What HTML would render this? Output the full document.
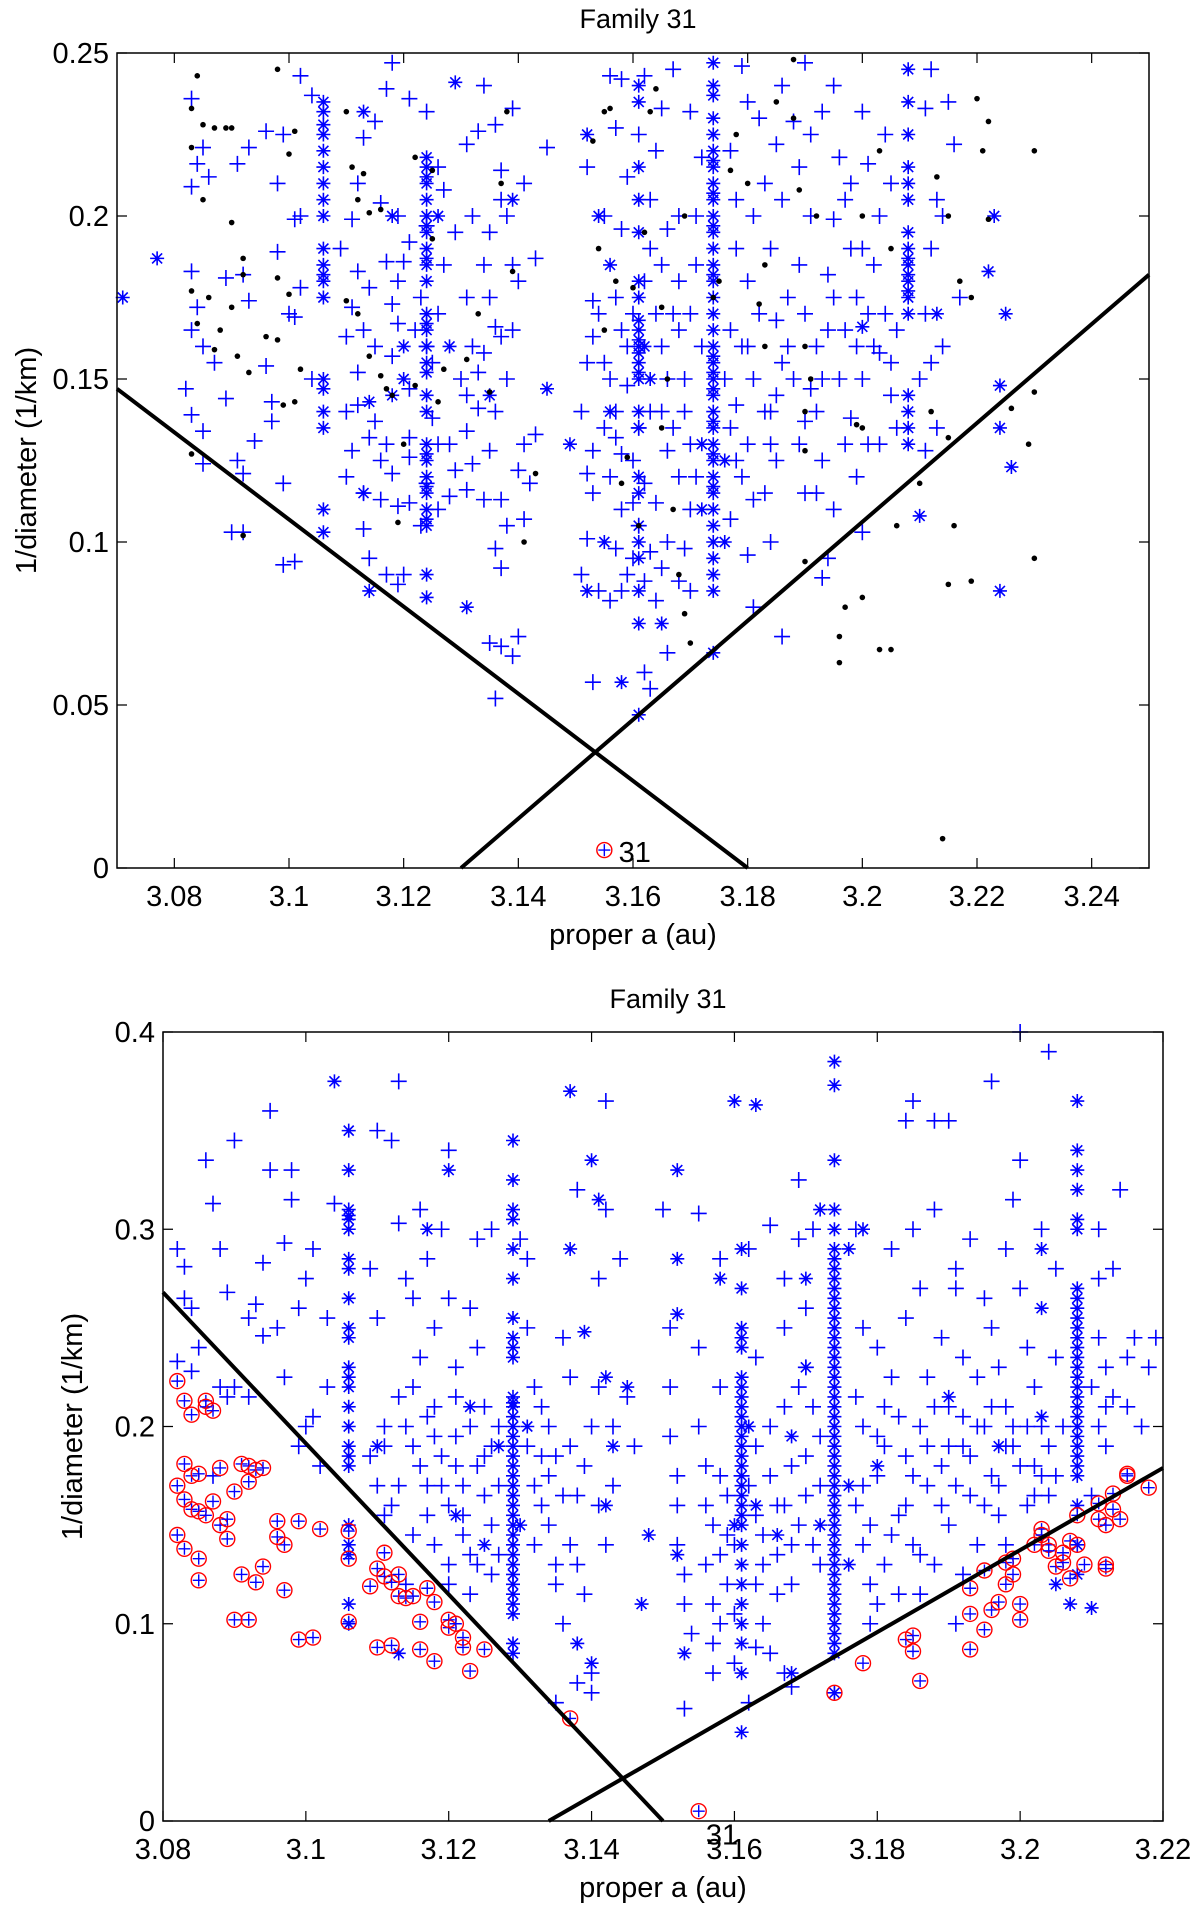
<!DOCTYPE html>
<html><head><meta charset="utf-8"><style>
html,body{margin:0;padding:0;background:#fff;}
svg{display:block;}
text{font-family:"Liberation Sans",sans-serif;fill:#000;}
</style></head><body>
<svg id="fig" width="1200" height="1915" viewBox="0 0 1200 1915" xmlns="http://www.w3.org/2000/svg">
<g id="p1"></g>
<g id="p2"></g>
</svg>
<script>
// ---------- TOP PANEL DATA ----------
const topXTicks=[3.08,3.1,3.12,3.14,3.16,3.18,3.2,3.22,3.24];
const topXTickLabels=["3.08","3.1","3.12","3.14","3.16","3.18","3.2","3.22","3.24"];
const topYTicks=[0,0.05,0.1,0.15,0.2,0.25];
const topYTickLabels=["0","0.05","0.1","0.15","0.2","0.25"];
const topLines=[[[3.07,0.147],[3.18,0]],[[3.13,0],[3.25,0.182]]];
const topPlus=[[3.083,0.236],[3.084,0.216],[3.083,0.209],[3.085,0.221],[3.086,0.212],[3.083,0.183],[3.084,0.172],[3.083,0.165],[3.085,0.16],[3.087,0.155],[3.082,0.147],[3.083,0.139],[3.085,0.134],[3.085,0.124],[3.089,0.144],[3.091,0.125],[3.092,0.121],[3.089,0.181],[3.092,0.182],[3.093,0.174],[3.09,0.103],[3.092,0.103],[3.096,0.154],[3.097,0.143],[3.097,0.137],[3.099,0.118],[3.094,0.131],[3.099,0.093],[3.101,0.094],[3.096,0.226],[3.099,0.225],[3.098,0.21],[3.101,0.199],[3.102,0.2],[3.104,0.237],[3.102,0.243],[3.098,0.189],[3.102,0.178],[3.1,0.17],[3.101,0.169],[3.104,0.15],[3.093,0.221],[3.091,0.216],[3.111,0.199],[3.112,0.21],[3.113,0.224],[3.115,0.229],[3.117,0.239],[3.118,0.247],[3.116,0.204],[3.119,0.2],[3.112,0.183],[3.114,0.178],[3.117,0.186],[3.119,0.18],[3.111,0.172],[3.113,0.165],[3.115,0.16],[3.118,0.157],[3.119,0.167],[3.112,0.142],[3.115,0.137],[3.117,0.13],[3.11,0.12],[3.113,0.115],[3.116,0.113],[3.118,0.121],[3.119,0.111],[3.114,0.095],[3.117,0.09],[3.119,0.087],[3.12,0.09],[3.111,0.128],[3.121,0.132],[3.121,0.147],[3.123,0.175],[3.125,0.155],[3.121,0.192],[3.124,0.197],[3.126,0.215],[3.121,0.236],[3.124,0.232],[3.127,0.208],[3.126,0.13],[3.124,0.118],[3.121,0.126],[3.128,0.114],[3.125,0.138],[3.131,0.116],[3.132,0.124],[3.134,0.113],[3.131,0.134],[3.133,0.141],[3.135,0.128],[3.132,0.16],[3.134,0.158],[3.136,0.166],[3.137,0.163],[3.131,0.175],[3.134,0.185],[3.135,0.195],[3.137,0.205],[3.132,0.2],[3.131,0.222],[3.133,0.226],[3.136,0.228],[3.137,0.214],[3.134,0.24],[3.139,0.233],[3.138,0.2],[3.139,0.185],[3.137,0.113],[3.138,0.105],[3.136,0.098],[3.141,0.13],[3.14,0.122],[3.143,0.133],[3.142,0.118],[3.141,0.107],[3.137,0.092],[3.137,0.068],[3.135,0.069],[3.136,0.052],[3.139,0.065],[3.14,0.071],[3.143,0.187],[3.141,0.21],[3.145,0.221],[3.152,0.215],[3.153,0.174],[3.153,0.163],[3.152,0.155],[3.151,0.14],[3.153,0.128],[3.152,0.121],[3.153,0.115],[3.152,0.101],[3.151,0.09],[3.154,0.085],[3.153,0.057],[3.155,0.135],[3.157,0.175],[3.158,0.165],[3.159,0.148],[3.157,0.14],[3.156,0.12],[3.158,0.11],[3.157,0.098],[3.159,0.09],[3.156,0.082],[3.158,0.085],[3.16,0.125],[3.162,0.118],[3.161,0.105],[3.163,0.097],[3.164,0.082],[3.162,0.06],[3.163,0.055],[3.164,0.112],[3.165,0.14],[3.166,0.128],[3.167,0.17],[3.168,0.18],[3.165,0.185],[3.166,0.196],[3.168,0.2],[3.163,0.205],[3.164,0.22],[3.162,0.243],[3.165,0.233],[3.167,0.245],[3.156,0.243],[3.158,0.242],[3.157,0.227],[3.155,0.2],[3.158,0.196],[3.169,0.15],[3.168,0.12],[3.17,0.11],[3.169,0.098],[3.17,0.085],[3.166,0.066],[3.168,0.088],[3.171,0.2],[3.172,0.218],[3.179,0.246],[3.18,0.235],[3.182,0.23],[3.177,0.22],[3.178,0.205],[3.181,0.2],[3.178,0.19],[3.18,0.18],[3.177,0.165],[3.179,0.16],[3.181,0.15],[3.178,0.142],[3.18,0.13],[3.179,0.12],[3.181,0.113],[3.177,0.107],[3.18,0.096],[3.181,0.08],[3.184,0.1],[3.183,0.115],[3.185,0.125],[3.184,0.14],[3.186,0.155],[3.185,0.168],[3.187,0.175],[3.184,0.19],[3.186,0.205],[3.185,0.222],[3.188,0.229],[3.186,0.24],[3.19,0.247],[3.189,0.215],[3.191,0.2],[3.189,0.185],[3.19,0.17],[3.192,0.16],[3.191,0.147],[3.19,0.137],[3.193,0.125],[3.192,0.115],[3.195,0.11],[3.194,0.095],[3.193,0.089],[3.194,0.182],[3.195,0.199],[3.196,0.218],[3.193,0.232],[3.195,0.24],[3.197,0.205],[3.198,0.19],[3.199,0.175],[3.197,0.165],[3.2,0.15],[3.198,0.138],[3.201,0.13],[3.199,0.12],[3.2,0.103],[3.2,0.232],[3.203,0.2],[3.202,0.185],[3.204,0.17],[3.203,0.158],[3.205,0.145],[3.206,0.135],[3.204,0.225],[3.201,0.216],[3.212,0.245],[3.211,0.233],[3.213,0.205],[3.212,0.19],[3.211,0.17],[3.212,0.155],[3.213,0.135],[3.211,0.128],[3.215,0.235],[3.216,0.222],[3.214,0.2],[3.217,0.175],[3.186,0.071]];
const topPlusExtra=[[3.109,0.19],[3.11,0.163],[3.112,0.152],[3.114,0.132],[3.116,0.125],[3.118,0.173],[3.12,0.186],[3.122,0.165],[3.124,0.16],[3.126,0.17],[3.127,0.185],[3.129,0.195],[3.13,0.15],[3.131,0.145],[3.133,0.152],[3.135,0.175],[3.136,0.14],[3.138,0.15],[3.139,0.165],[3.14,0.18],[3.128,0.13],[3.129,0.122],[3.126,0.11],[3.123,0.105],[3.121,0.112],[3.113,0.104],[3.11,0.14],[3.154,0.17],[3.155,0.155],[3.156,0.15],[3.157,0.132],[3.158,0.127],[3.159,0.16],[3.16,0.17],[3.162,0.18],[3.163,0.19],[3.164,0.17],[3.165,0.16],[3.166,0.15],[3.167,0.135],[3.168,0.165],[3.169,0.14],[3.17,0.13],[3.171,0.12],[3.17,0.17],[3.171,0.185],[3.172,0.16],[3.176,0.15],[3.177,0.135],[3.178,0.125],[3.18,0.16],[3.182,0.17],[3.183,0.14],[3.184,0.13],[3.185,0.145],[3.187,0.16],[3.188,0.15],[3.189,0.13],[3.19,0.115],[3.192,0.14],[3.193,0.15],[3.194,0.165],[3.195,0.175],[3.196,0.15],[3.197,0.13],[3.199,0.16],[3.201,0.17],[3.202,0.16],[3.203,0.13],[3.205,0.155],[3.206,0.165],[3.2,0.19],[3.198,0.21],[3.205,0.21],[3.21,0.15],[3.214,0.16],[3.161,0.135],[3.163,0.14],[3.16,0.095],[3.162,0.088],[3.165,0.092],[3.166,0.1],[3.16,0.112],[3.159,0.212],[3.161,0.225],[3.17,0.232],[3.183,0.21],[3.191,0.225]];
const topStarCols=[3.106,3.124,3.161,3.174,3.208];
const topStarColD=[
[0.235,0.232,0.228,0.225,0.22,0.215,0.21,0.205,0.2,0.19,0.185,0.182,0.18,0.175,0.15,0.147,0.14,0.135,0.11,0.103],
[0.218,0.215,0.212,0.21,0.205,0.2,0.197,0.195,0.19,0.187,0.185,0.18,0.17,0.167,0.165,0.16,0.155,0.152,0.145,0.14,0.13,0.127,0.125,0.12,0.117,0.115,0.11,0.107,0.105,0.09,0.083],
[0.24,0.235,0.215,0.205,0.195,0.18,0.175,0.168,0.165,0.162,0.16,0.158,0.155,0.152,0.15,0.14,0.135,0.12,0.115,0.105,0.1,0.095,0.085,0.075,0.047],
[0.247,0.24,0.237,0.23,0.225,0.22,0.217,0.215,0.21,0.207,0.205,0.2,0.197,0.195,0.19,0.185,0.182,0.18,0.175,0.17,0.165,0.16,0.157,0.155,0.152,0.15,0.147,0.145,0.14,0.137,0.135,0.13,0.127,0.125,0.12,0.117,0.115,0.11,0.105,0.1,0.095,0.09,0.085,0.066],
[0.245,0.235,0.225,0.215,0.21,0.205,0.195,0.19,0.187,0.185,0.182,0.18,0.177,0.175,0.17,0.145,0.14,0.135,0.13]];
const topStarOther=[[3.113,0.232],[3.114,0.143],[3.113,0.115],[3.114,0.085],[3.12,0.16],[3.12,0.15],[3.118,0.145],[3.071,0.175],[3.077,0.187],[3.129,0.241],[3.135,0.145],[3.139,0.205],[3.145,0.147],[3.149,0.13],[3.156,0.185],[3.156,0.14],[3.154,0.2],[3.152,0.225],[3.152,0.085],[3.155,0.1],[3.158,0.057],[3.165,0.075],[3.223,0.2],[3.222,0.183],[3.225,0.17],[3.224,0.148],[3.224,0.135],[3.226,0.123],[3.224,0.085],[3.21,0.108],[3.2,0.166],[3.213,0.17],[3.131,0.08],[3.128,0.16],[3.126,0.2],[3.118,0.2],[3.172,0.13],[3.172,0.11],[3.176,0.125],[3.176,0.1],[3.162,0.16],[3.163,0.15]];
const topDots=[[3.084,0.243],[3.083,0.233],[3.085,0.228],[3.087,0.227],[3.089,0.227],[3.09,0.227],[3.083,0.221],[3.085,0.205],[3.09,0.198],[3.092,0.187],[3.092,0.182],[3.083,0.177],[3.086,0.175],[3.084,0.167],[3.088,0.165],[3.09,0.172],[3.091,0.157],[3.093,0.152],[3.087,0.159],[3.083,0.127],[3.092,0.102],[3.096,0.163],[3.098,0.162],[3.099,0.142],[3.101,0.143],[3.1,0.176],[3.098,0.181],[3.102,0.153],[3.1,0.219],[3.101,0.226],[3.098,0.245],[3.11,0.232],[3.111,0.215],[3.112,0.205],[3.113,0.213],[3.114,0.201],[3.116,0.202],[3.11,0.174],[3.112,0.17],[3.114,0.157],[3.116,0.151],[3.118,0.145],[3.12,0.13],[3.119,0.106],[3.117,0.147],[3.122,0.148],[3.125,0.214],[3.122,0.218],[3.125,0.193],[3.126,0.143],[3.127,0.153],[3.131,0.156],[3.133,0.17],[3.135,0.146],[3.137,0.21],[3.138,0.232],[3.139,0.183],[3.143,0.121],[3.141,0.1],[3.153,0.223],[3.155,0.232],[3.156,0.233],[3.154,0.19],[3.155,0.165],[3.157,0.18],[3.16,0.178],[3.159,0.126],[3.158,0.118],[3.162,0.195],[3.165,0.172],[3.166,0.15],[3.165,0.135],[3.167,0.11],[3.168,0.09],[3.169,0.078],[3.17,0.069],[3.161,0.105],[3.163,0.232],[3.164,0.239],[3.169,0.2],[3.175,0.18],[3.178,0.225],[3.177,0.214],[3.18,0.21],[3.183,0.185],[3.182,0.173],[3.185,0.235],[3.188,0.248],[3.188,0.23],[3.189,0.208],[3.19,0.16],[3.191,0.15],[3.19,0.14],[3.19,0.128],[3.19,0.094],[3.196,0.063],[3.196,0.071],[3.197,0.08],[3.2,0.083],[3.203,0.067],[3.205,0.067],[3.2,0.135],[3.2,0.2],[3.203,0.22],[3.205,0.19],[3.206,0.105],[3.21,0.118],[3.212,0.14],[3.215,0.132],[3.213,0.212],[3.215,0.2],[3.217,0.18],[3.219,0.175],[3.216,0.105],[3.215,0.087],[3.219,0.088],[3.222,0.199],[3.221,0.22],[3.22,0.236],[3.222,0.229],[3.226,0.141],[3.229,0.13],[3.23,0.146],[3.23,0.095],[3.23,0.22],[3.214,0.009],[3.192,0.2],[3.183,0.16],[3.174,0.175],[3.199,0.136]];
const topCircles=[[3.155,0.0055]];

// ---------- BOTTOM PANEL DATA ----------
const botXTicks=[3.08,3.1,3.12,3.14,3.16,3.18,3.2,3.22];
const botXTickLabels=["3.08","3.1","3.12","3.14","3.16","3.18","3.2","3.22"];
const botYTicks=[0,0.1,0.2,0.3,0.4];
const botYTickLabels=["0","0.1","0.2","0.3","0.4"];
const botLines=[[[3.08,0.268],[3.15,0]],[[3.134,0],[3.22,0.179]]];
const botPlus=[[3.082,0.29],[3.083,0.281],[3.083,0.265],[3.084,0.26],[3.086,0.335],[3.087,0.313],[3.088,0.29],[3.089,0.268],[3.09,0.345],[3.082,0.233],[3.084,0.228],[3.085,0.24],[3.088,0.22],[3.089,0.215],[3.092,0.255],[3.093,0.262],[3.094,0.283],[3.095,0.33],[3.095,0.36],[3.094,0.246],[3.096,0.25],[3.097,0.293],[3.098,0.33],[3.098,0.315],[3.099,0.26],[3.099,0.19],[3.1,0.275],[3.1,0.2],[3.101,0.29],[3.101,0.205],[3.103,0.255],[3.103,0.22],[3.104,0.313],[3.102,0.18],[3.097,0.225],[3.092,0.215],[3.09,0.22],[3.087,0.175],[3.109,0.28],[3.11,0.255],[3.11,0.35],[3.111,0.19],[3.112,0.345],[3.113,0.303],[3.113,0.375],[3.114,0.275],[3.115,0.265],[3.115,0.22],[3.116,0.235],[3.116,0.31],[3.117,0.285],[3.117,0.205],[3.118,0.195],[3.118,0.25],[3.119,0.3],[3.119,0.17],[3.12,0.34],[3.12,0.265],[3.121,0.23],[3.121,0.215],[3.121,0.18],[3.122,0.155],[3.122,0.145],[3.123,0.2],[3.123,0.26],[3.124,0.295],[3.124,0.24],[3.125,0.21],[3.125,0.185],[3.126,0.15],[3.126,0.3],[3.127,0.135],[3.127,0.2],[3.112,0.16],[3.113,0.17],[3.114,0.12],[3.115,0.145],[3.118,0.14],[3.12,0.13],[3.12,0.12],[3.123,0.115],[3.111,0.2],[3.109,0.185],[3.115,0.19],[3.117,0.17],[3.13,0.295],[3.131,0.285],[3.131,0.25],[3.132,0.22],[3.133,0.21],[3.133,0.185],[3.134,0.175],[3.134,0.15],[3.135,0.13],[3.135,0.12],[3.136,0.1],[3.136,0.245],[3.137,0.225],[3.137,0.19],[3.138,0.165],[3.138,0.32],[3.139,0.115],[3.14,0.065],[3.14,0.075],[3.141,0.275],[3.141,0.16],[3.142,0.365],[3.142,0.31],[3.143,0.2],[3.144,0.285],[3.135,0.06],[3.138,0.07],[3.145,0.215],[3.146,0.19],[3.15,0.31],[3.151,0.25],[3.151,0.22],[3.151,0.195],[3.152,0.175],[3.152,0.16],[3.152,0.14],[3.153,0.125],[3.153,0.11],[3.154,0.095],[3.153,0.057],[3.155,0.24],[3.155,0.2],[3.155,0.308],[3.156,0.16],[3.156,0.13],[3.157,0.11],[3.157,0.09],[3.158,0.285],[3.158,0.22],[3.158,0.175],[3.159,0.145],[3.159,0.12],[3.16,0.08],[3.162,0.06],[3.162,0.29],[3.163,0.235],[3.163,0.19],[3.163,0.155],[3.164,0.13],[3.164,0.1],[3.165,0.302],[3.165,0.2],[3.166,0.16],[3.166,0.115],[3.167,0.275],[3.167,0.25],[3.167,0.21],[3.168,0.18],[3.168,0.14],[3.169,0.325],[3.169,0.295],[3.17,0.26],[3.17,0.23],[3.17,0.165],[3.171,0.3],[3.172,0.195],[3.172,0.13],[3.167,0.075],[3.168,0.068],[3.177,0.3],[3.177,0.215],[3.178,0.25],[3.178,0.17],[3.178,0.14],[3.179,0.12],[3.179,0.1],[3.18,0.24],[3.18,0.195],[3.181,0.21],[3.181,0.13],[3.182,0.29],[3.182,0.225],[3.183,0.155],[3.183,0.115],[3.184,0.355],[3.184,0.255],[3.184,0.185],[3.185,0.3],[3.185,0.365],[3.185,0.14],[3.186,0.27],[3.186,0.2],[3.187,0.225],[3.187,0.17],[3.188,0.355],[3.188,0.31],[3.188,0.13],[3.189,0.245],[3.189,0.18],[3.19,0.355],[3.19,0.21],[3.19,0.15],[3.191,0.28],[3.191,0.27],[3.191,0.1],[3.192,0.235],[3.192,0.19],[3.193,0.165],[3.193,0.295],[3.194,0.225],[3.194,0.14],[3.195,0.265],[3.195,0.2],[3.196,0.375],[3.196,0.25],[3.196,0.175],[3.197,0.23],[3.197,0.155],[3.198,0.29],[3.198,0.21],[3.199,0.315],[3.199,0.19],[3.2,0.27],[3.2,0.4],[3.2,0.335],[3.201,0.24],[3.201,0.16],[3.202,0.22],[3.202,0.18],[3.203,0.3],[3.203,0.2],[3.205,0.28],[3.205,0.235],[3.204,0.39],[3.211,0.3],[3.211,0.275],[3.211,0.245],[3.212,0.23],[3.212,0.21],[3.212,0.19],[3.213,0.28],[3.214,0.32],[3.215,0.235],[3.216,0.245],[3.217,0.2],[3.218,0.23],[3.219,0.245],[3.211,0.2],[3.21,0.165],[3.204,0.165],[3.198,0.14],[3.192,0.125],[3.186,0.115],[3.18,0.11]];
const botPlusExtra=[[3.11,0.17],[3.111,0.155],[3.113,0.215],[3.114,0.2],[3.116,0.18],[3.117,0.155],[3.118,0.21],[3.119,0.185],[3.12,0.16],[3.121,0.195],[3.122,0.17],[3.123,0.135],[3.124,0.18],[3.125,0.165],[3.126,0.19],[3.127,0.17],[3.126,0.125],[3.124,0.13],[3.131,0.19],[3.132,0.17],[3.132,0.14],[3.133,0.16],[3.134,0.2],[3.135,0.185],[3.136,0.165],[3.137,0.14],[3.138,0.13],[3.139,0.18],[3.14,0.2],[3.141,0.22],[3.142,0.14],[3.143,0.17],[3.156,0.18],[3.157,0.15],[3.158,0.135],[3.159,0.165],[3.16,0.14],[3.162,0.17],[3.163,0.12],[3.164,0.145],[3.165,0.175],[3.166,0.135],[3.167,0.16],[3.168,0.12],[3.169,0.15],[3.17,0.185],[3.171,0.14],[3.172,0.17],[3.171,0.21],[3.169,0.22],[3.177,0.16],[3.178,0.2],[3.179,0.15],[3.18,0.175],[3.181,0.19],[3.182,0.145],[3.183,0.205],[3.184,0.16],[3.185,0.175],[3.186,0.135],[3.187,0.19],[3.188,0.21],[3.189,0.16],[3.19,0.19],[3.191,0.17],[3.192,0.205],[3.193,0.185],[3.194,0.2],[3.195,0.16],[3.196,0.21],[3.197,0.17],[3.198,0.19],[3.199,0.2],[3.2,0.18],[3.201,0.2],[3.202,0.165],[3.203,0.175],[3.204,0.19],[3.205,0.175],[3.206,0.2],[3.21,0.22],[3.213,0.215],[3.215,0.21],[3.161,0.175],[3.16,0.105],[3.158,0.1],[3.165,0.085],[3.163,0.088],[3.157,0.075]];
const botStarCols=[3.106,3.129,3.161,3.174,3.208];
const botStarColD=[
[0.35,0.33,0.31,0.307,0.305,0.3,0.285,0.28,0.265,0.25,0.245,0.23,0.225,0.22,0.21,0.2,0.19,0.185,0.18,0.15,0.14,0.135,0.11,0.1],
[0.345,0.325,0.31,0.305,0.29,0.275,0.255,0.245,0.24,0.235,0.215,0.212,0.21,0.205,0.2,0.195,0.19,0.185,0.18,0.175,0.17,0.165,0.16,0.155,0.15,0.145,0.14,0.135,0.13,0.125,0.12,0.115,0.11,0.105,0.09,0.085],
[0.29,0.27,0.25,0.245,0.24,0.225,0.22,0.215,0.21,0.205,0.2,0.195,0.19,0.185,0.18,0.175,0.17,0.165,0.16,0.155,0.15,0.14,0.13,0.12,0.11,0.1,0.09,0.075,0.045],
[0.385,0.373,0.335,0.31,0.3,0.29,0.285,0.28,0.275,0.27,0.265,0.26,0.255,0.25,0.245,0.24,0.235,0.23,0.225,0.22,0.215,0.21,0.205,0.2,0.195,0.19,0.185,0.18,0.175,0.17,0.165,0.16,0.155,0.15,0.145,0.14,0.135,0.13,0.125,0.12,0.115,0.11,0.105,0.1,0.095,0.09,0.085,0.065],
[0.365,0.34,0.33,0.32,0.305,0.3,0.27,0.265,0.26,0.255,0.25,0.245,0.24,0.235,0.23,0.225,0.22,0.215,0.21,0.205,0.2,0.195,0.19,0.185,0.18,0.175,0.16,0.14,0.125]];
const botStarOther=[[3.104,0.375],[3.11,0.19],[3.117,0.3],[3.12,0.33],[3.123,0.21],[3.121,0.155],[3.137,0.37],[3.137,0.29],[3.139,0.248],[3.14,0.335],[3.141,0.315],[3.142,0.225],[3.143,0.19],[3.142,0.16],[3.147,0.11],[3.145,0.22],[3.14,0.08],[3.138,0.09],[3.148,0.145],[3.152,0.33],[3.152,0.285],[3.152,0.257],[3.152,0.135],[3.153,0.085],[3.158,0.275],[3.16,0.365],[3.163,0.363],[3.17,0.23],[3.168,0.195],[3.166,0.145],[3.17,0.275],[3.172,0.31],[3.176,0.29],[3.178,0.3],[3.18,0.18],[3.19,0.215],[3.197,0.19],[3.203,0.26],[3.203,0.29],[3.203,0.205],[3.205,0.12],[3.207,0.11],[3.21,0.108],[3.168,0.075],[3.113,0.085],[3.13,0.15],[3.125,0.14],[3.162,0.2],[3.163,0.16],[3.16,0.15],[3.176,0.17],[3.176,0.13],[3.172,0.15],[3.131,0.2],[3.127,0.19]];
const botCircles=[[3.082,0.223],[3.083,0.213],[3.084,0.206],[3.086,0.213],[3.086,0.21],[3.087,0.208],[3.082,0.17],[3.083,0.181],[3.084,0.175],[3.085,0.176],[3.083,0.163],[3.084,0.158],[3.085,0.157],[3.086,0.155],[3.087,0.162],[3.082,0.145],[3.083,0.138],[3.085,0.133],[3.085,0.122],[3.088,0.179],[3.088,0.15],[3.089,0.153],[3.089,0.143],[3.09,0.167],[3.091,0.181],[3.092,0.18],[3.093,0.178],[3.092,0.172],[3.094,0.179],[3.091,0.125],[3.093,0.121],[3.094,0.129],[3.09,0.102],[3.092,0.102],[3.096,0.152],[3.097,0.14],[3.097,0.117],[3.096,0.144],[3.099,0.152],[3.099,0.092],[3.101,0.093],[3.102,0.148],[3.106,0.147],[3.106,0.133],[3.106,0.101],[3.109,0.119],[3.11,0.128],[3.111,0.124],[3.112,0.121],[3.113,0.125],[3.113,0.114],[3.114,0.113],[3.115,0.114],[3.116,0.101],[3.117,0.118],[3.118,0.111],[3.11,0.088],[3.112,0.089],[3.116,0.087],[3.118,0.081],[3.12,0.098],[3.12,0.102],[3.121,0.1],[3.122,0.093],[3.122,0.088],[3.123,0.076],[3.125,0.087],[3.111,0.136],[3.137,0.052],[3.155,0.005],[3.178,0.08],[3.174,0.065],[3.184,0.092],[3.185,0.094],[3.185,0.086],[3.186,0.071],[3.193,0.087],[3.193,0.105],[3.193,0.118],[3.195,0.097],[3.195,0.127],[3.196,0.107],[3.197,0.111],[3.198,0.12],[3.198,0.131],[3.199,0.133],[3.199,0.125],[3.2,0.11],[3.2,0.102],[3.202,0.14],[3.203,0.148],[3.203,0.145],[3.204,0.14],[3.204,0.137],[3.205,0.129],[3.206,0.131],[3.206,0.136],[3.207,0.142],[3.208,0.14],[3.207,0.123],[3.209,0.13],[3.211,0.161],[3.211,0.153],[3.212,0.15],[3.213,0.166],[3.213,0.158],[3.214,0.153],[3.215,0.176],[3.215,0.175],[3.212,0.128],[3.212,0.13],[3.218,0.169],[3.208,0.155]];

const NS="http://www.w3.org/2000/svg";
function mk(tag,attrs,parent){const e=document.createElementNS(NS,tag);for(const k in attrs)e.setAttribute(k,attrs[k]);parent.appendChild(e);return e;}

function panel(g,box,xr,yr,xt,xtl,yt,ytl,lines,plus,starCols,starColD,starOther,dots,circles,txt){
  const sx=v=>box.l+(v-xr[0])/(xr[1]-xr[0])*(box.r-box.l);
  const sy=v=>box.b-(v-yr[0])/(yr[1]-yr[0])*(box.b-box.t);
  const marks=mk('g',{},g);
  
  
  plus.forEach(p=>{
    const x=sx(p[0]),y=sy(p[1]);
    const e=mk('path',{d:`M${x-8} ${y}H${x+8}M${x} ${y-8}V${y+8}`,stroke:'#0000ff','stroke-width':1.6,fill:'none'},marks);
    
    
  });
  const star=(a,d)=>{
    const x=sx(a),y=sy(d),r=7,q=5;
    const e=mk('path',{d:`M${x-r} ${y}H${x+r}M${x} ${y-r}V${y+r}M${x-q} ${y-q}L${x+q} ${y+q}M${x-q} ${y+q}L${x+q} ${y-q}`,stroke:'#0000ff','stroke-width':1.6,fill:'none'},marks);
    
    
  };
  starCols.forEach((a,i)=>starColD[i].forEach(d=>star(a,d)));
  starOther.forEach(p=>star(p[0],p[1]));
  dots.forEach(p=>{
    const e=mk('circle',{cx:sx(p[0]),cy:sy(p[1]),r:2.8,fill:'#000'},marks);
    
    
  });
  circles.forEach(p=>{
    const x=sx(p[0]),y=sy(p[1]);
    const e=mk('g',{},marks);
    
    
    mk('circle',{cx:x,cy:y,r:7.5,fill:'none',stroke:'#ff0000','stroke-width':1.4},e);
    mk('path',{d:`M${x-6} ${y}H${x+6}M${x} ${y-6}V${y+6}`,stroke:'#0000ff','stroke-width':1.4},e);
  });
  lines.forEach(L=>{
    const e=mk('line',{x1:sx(L[0][0]),y1:sy(L[0][1]),x2:sx(L[1][0]),y2:sy(L[1][1]),stroke:'#000','stroke-width':4},g);
    
    
  });
  const ax=mk('rect',{x:box.l,y:box.t,width:box.r-box.l,height:box.b-box.t,fill:'none',stroke:'#000','stroke-width':1.5},g);
  
  
  xt.forEach((v,i)=>{
    const x=sx(v);
    mk('path',{d:`M${x} ${box.b}V${box.b-10}M${x} ${box.t}V${box.t+10}`,stroke:'#000','stroke-width':1.2},g);
    const t=mk('text',{x:x,y:box.b+38,'text-anchor':'middle','font-size':29},g);
    t.textContent=xtl[i];
    
    
  });
  yt.forEach((v,i)=>{
    const y=sy(v);
    mk('path',{d:`M${box.l} ${y}H${box.l+10}M${box.r} ${y}H${box.r-10}`,stroke:'#000','stroke-width':1.2},g);
    const t=mk('text',{x:box.l-8,y:y+10,'text-anchor':'end','font-size':29},g);
    t.textContent=ytl[i];
    
    
  });
  const cx=(box.l+box.r)/2;
  const ti=mk('text',{x:cx+5,y:txt.titleY,'text-anchor':'middle','font-size':27},g);
  ti.textContent='Family 31';
  
  
  const xl=mk('text',{x:cx,y:box.b+76,'text-anchor':'middle','font-size':29},g);
  xl.textContent='proper a (au)';
  
  
  const cy=(box.t+box.b)/2;
  const yl=mk('text',{x:txt.ylX,y:cy,'text-anchor':'middle','font-size':29,transform:`rotate(-90 ${txt.ylX} ${cy})`},g);
  yl.textContent='1/diameter (1/km)';
  
  
  const lb=mk('text',{x:sx(txt.lab[0]),y:sy(txt.lab[1]),'font-size':29},g);
  lb.textContent='31';
  
  
}
panel(document.getElementById('p1'),{l:117,r:1149,t:53,b:868},[3.07,3.25],[0,0.25],topXTicks,topXTickLabels,topYTicks,topYTickLabels,topLines,topPlus.concat(topPlusExtra),topStarCols,topStarColD,topStarOther,topDots,topCircles,{titleY:28,ylX:36,lab:[3.1575,0.0018]});
panel(document.getElementById('p2'),{l:163,r:1163,t:1032,b:1821},[3.08,3.22],[0,0.4],botXTicks,botXTickLabels,botYTicks,botYTickLabels,botLines,botPlus.concat(botPlusExtra),botStarCols,botStarColD,botStarOther,[],botCircles,{titleY:1008,ylX:82,lab:[3.156,-0.012]});
</script>
</body></html>
